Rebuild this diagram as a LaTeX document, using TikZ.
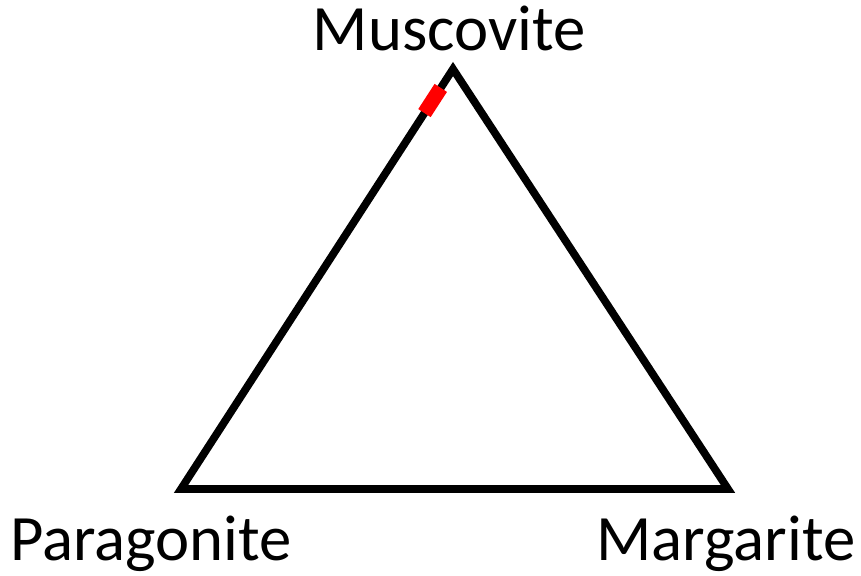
\documentclass[tikz,border=0pt]{standalone}
\usepackage{fontspec}
\setmainfont{Carlito}
\usetikzlibrary{calc}

\begin{document}
\begin{tikzpicture}[x=0.01cm, y=0.01cm, font=\fontsize{18.4}{22}\selectfont]
                \useasboundingbox (0,0) rectangle (861,575);
                \coordinate (mus) at (453,506);
                \coordinate (par) at (181,86);
                \coordinate (mar) at (728,86);

                \draw[line width=2.2pt, line join=miter] (mus) -- (par) -- (mar) -- cycle;
                \draw[red, line width=4.2pt] ($(par)!0.895!(mus)$) -- ($(par)!0.955!(mus)$);

                \node[anchor=base] (muslabel) at (449,525) {Muscovite};
                \node[anchor=base] (parlabel) at (151,15) {Paragonite};
                \node[anchor=base] (marlabel) at (726,15) {Margarite};
            \end{tikzpicture}
\end{document}
